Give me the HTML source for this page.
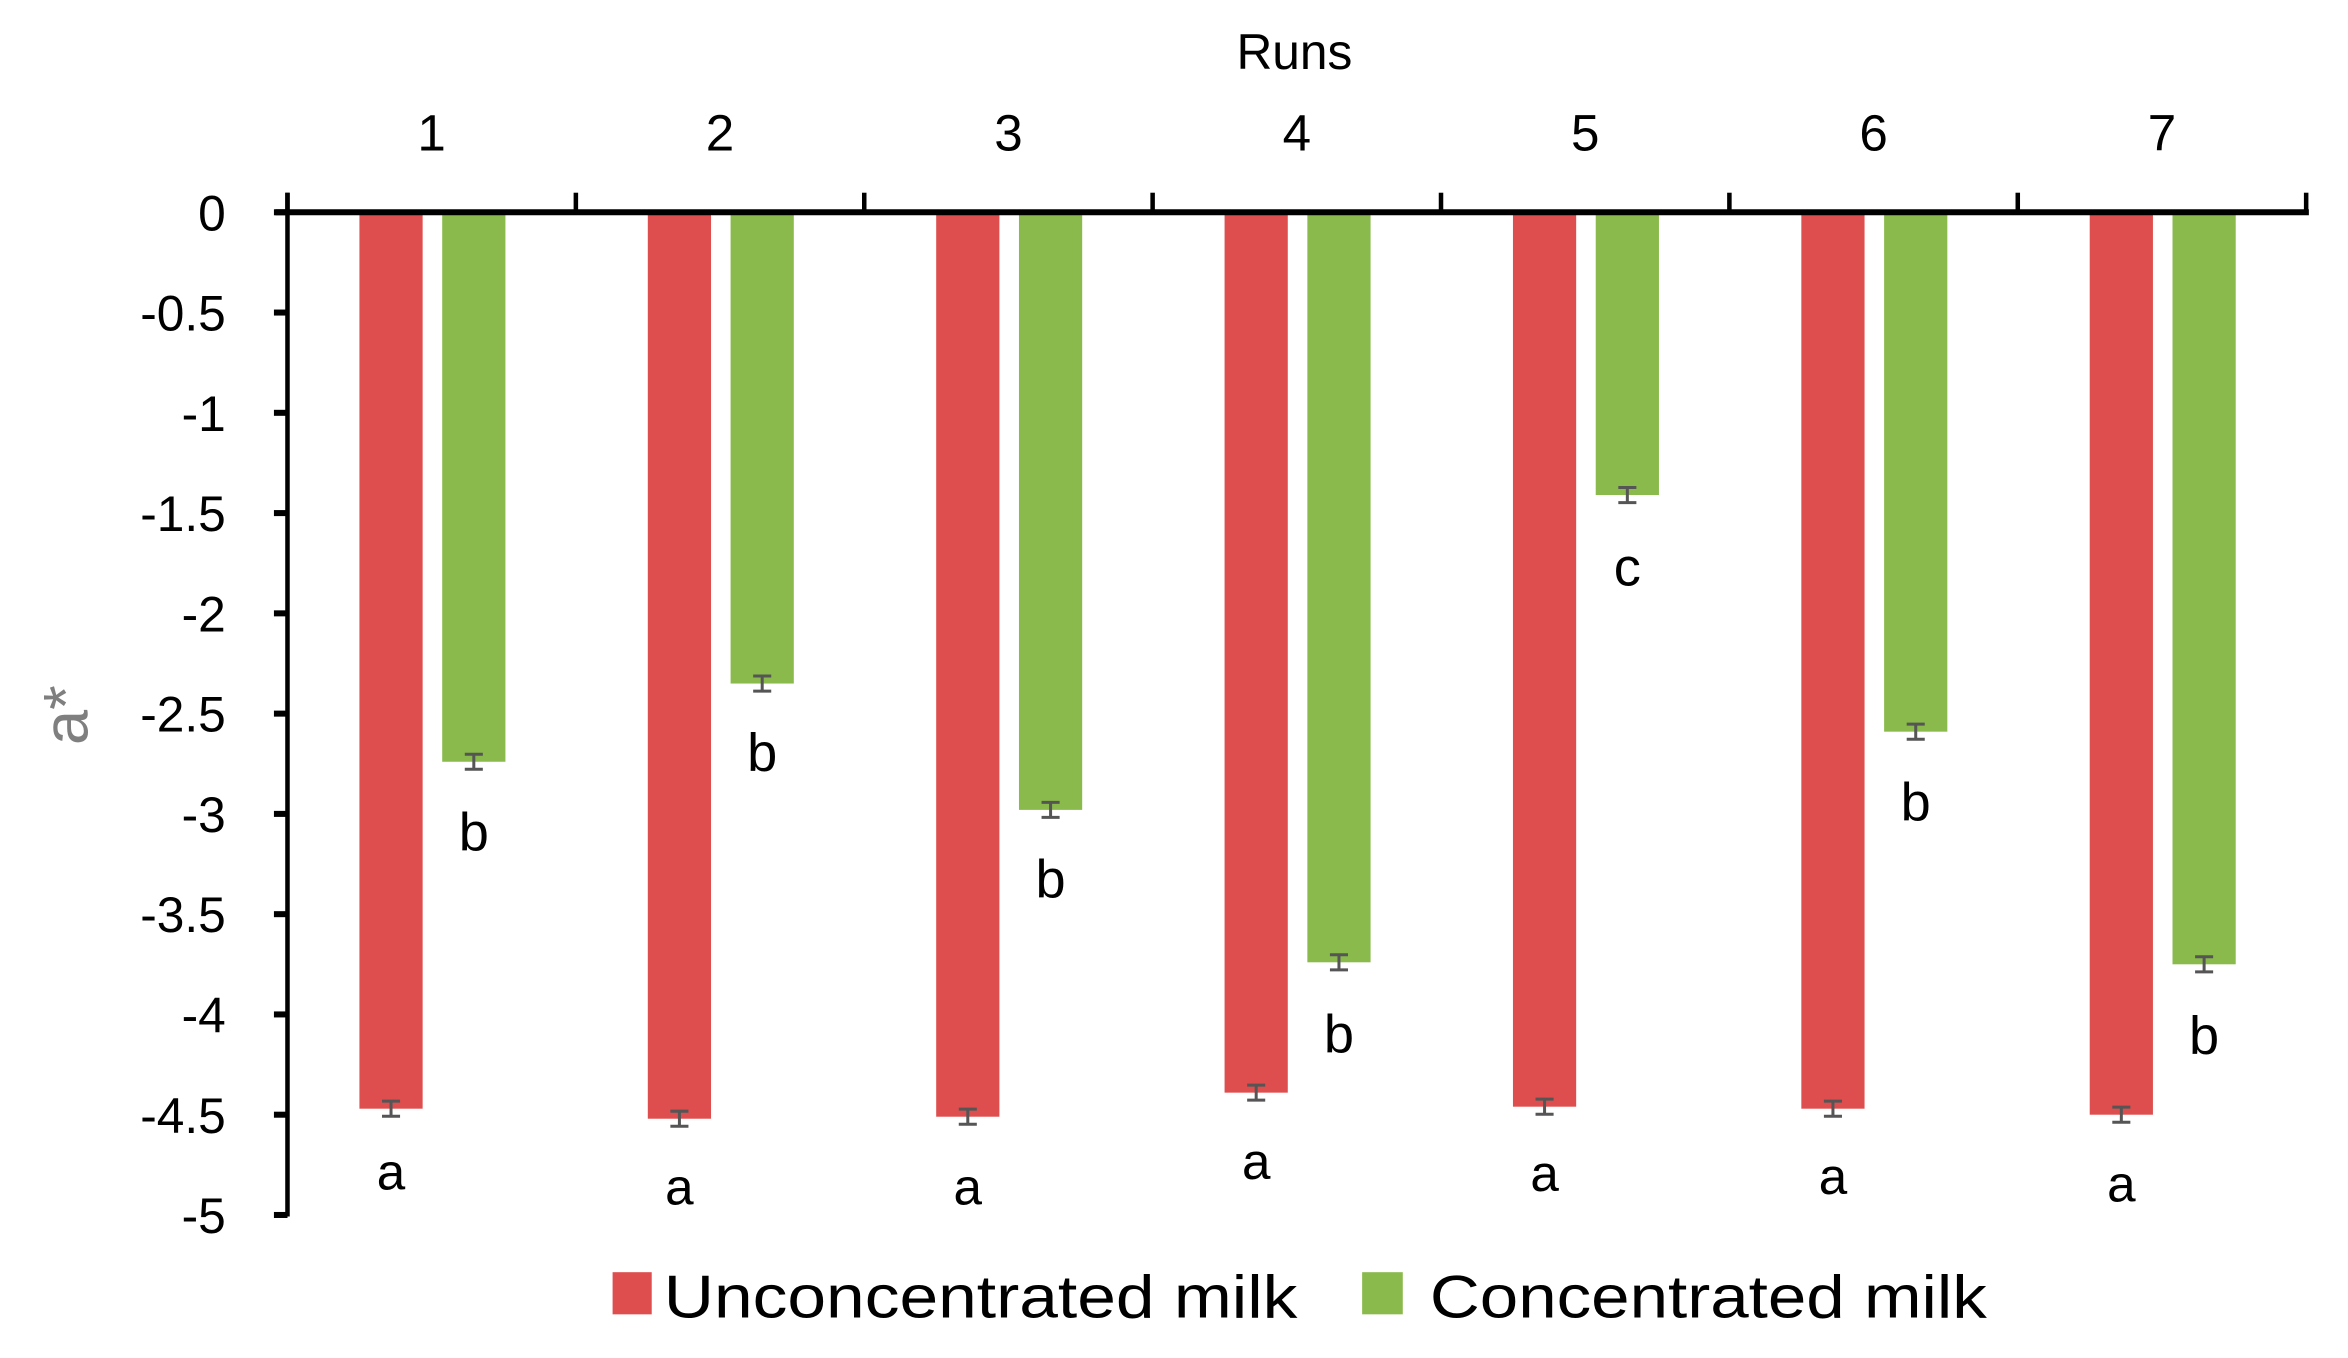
<!DOCTYPE html>
<html><head><meta charset="utf-8"><style>
html,body{margin:0;padding:0;background:#fff;}
svg{display:block;}
text{font-family:"Liberation Sans",sans-serif;fill:#000;}
</style></head><body>
<svg width="2348" height="1358" viewBox="0 0 1560 902" preserveAspectRatio="none" xmlns="http://www.w3.org/2000/svg">
<g id="chart"></g>
<text x="860" y="46" font-size="33" text-anchor="middle">Runs</text>
<text transform="translate(58,475) rotate(-90)" font-size="42" fill="#7f7f7f" style="fill:#7f7f7f" text-anchor="middle">a*</text>
<rect x="407" y="845" width="26" height="28" fill="#de4e4e"/>
<text x="441" y="875" font-size="40" textLength="421" lengthAdjust="spacingAndGlyphs">Unconcentrated milk</text>
<rect x="905" y="845" width="27" height="28" fill="#8aba4b"/>
<text x="950" y="875" font-size="40" textLength="370" lengthAdjust="spacingAndGlyphs">Concentrated milk</text>
<script>
const ns="http://www.w3.org/2000/svg",g=document.getElementById('chart');
function el(t,a,txt){const e=document.createElementNS(ns,t);for(const k in a)e.setAttribute(k,a[k]);if(txt!==undefined)e.textContent=txt;g.appendChild(e);return e;}
const y0=141,s=133.2;const Y=v=>y0-v*s;
const red=[-4.47,-4.52,-4.51,-4.39,-4.46,-4.47,-4.50],grn=[-2.74,-2.35,-2.98,-3.74,-1.41,-2.59,-3.75];
const ay=[790,800,800,783,791,793,798],by=[565,512,596,699,389,545,700],bl=['b','b','b','b','c','b','b'];
const bw=191.6,x0=191;
for(let i=0;i<7;i++){const c=x0+bw*(i+0.5);
el('rect',{x:c-48,y:y0,width:42,height:Y(red[i])-y0,fill:'#de4e4e'});
el('rect',{x:c+7,y:y0,width:42,height:Y(grn[i])-y0,fill:'#8aba4b'});
[[c-27,red[i]],[c+28,grn[i]]].forEach(([x,v])=>{const yy=Y(v);
el('line',{x1:x,x2:x,y1:yy-5,y2:yy+5,stroke:'#555','stroke-width':2});
el('line',{x1:x-6,x2:x+6,y1:yy-5,y2:yy-5,stroke:'#555','stroke-width':2});
el('line',{x1:x-6,x2:x+6,y1:yy+5,y2:yy+5,stroke:'#555','stroke-width':2});});
el('text',{x:c-27,y:ay[i],'font-size':34,'text-anchor':'middle'},'a');
el('text',{x:c+28,y:by[i],'font-size':36,'text-anchor':'middle'},bl[i]);
el('text',{x:c,y:100,'font-size':34,'text-anchor':'middle'},String(i+1));
}
el('line',{x1:183,x2:1534,y1:y0,y2:y0,stroke:'#000','stroke-width':4});
el('line',{x1:191,x2:191,y1:128,y2:808,stroke:'#000','stroke-width':3});
for(let i=0;i<=7;i++){const x=x0+bw*i;el('line',{x1:x,x2:x,y1:128,y2:141,stroke:'#000','stroke-width':3});}
for(let k=0;k<=10;k++){const v=-k*0.5,yy=Y(v);
el('line',{x1:182,x2:191,y1:yy,y2:yy,stroke:'#000','stroke-width':4});
el('text',{x:150,y:yy+12,'font-size':33,'text-anchor':'end'},String(v));}
</script>
</svg>
</body></html>
